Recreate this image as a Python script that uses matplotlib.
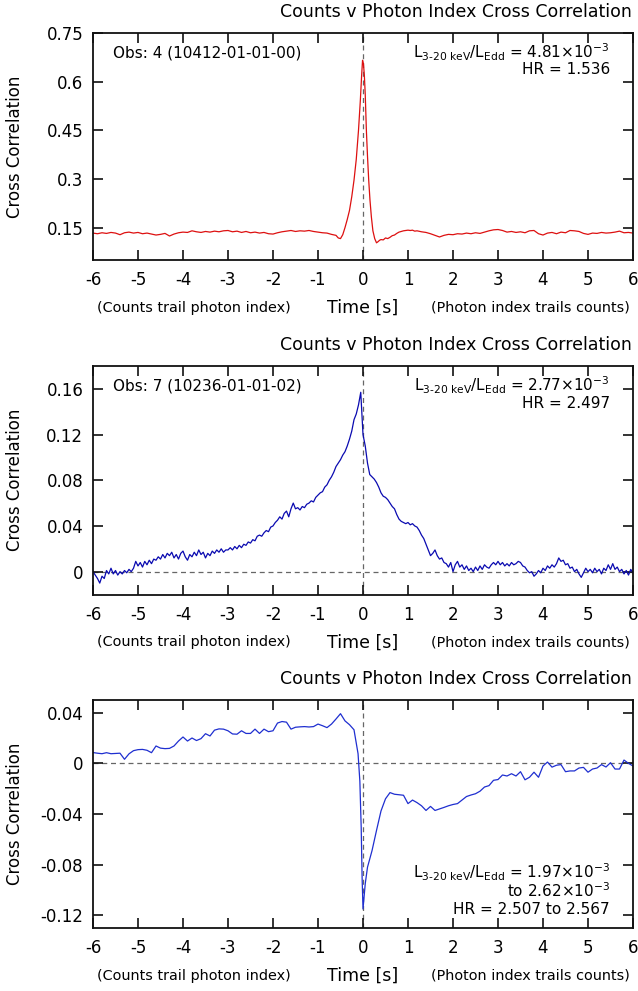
import numpy as np
import matplotlib
matplotlib.use("Agg")
import matplotlib.pyplot as plt

plt.rcParams['font.family'] = ['DejaVu Sans']
plt.rcParams['mathtext.fontset'] = 'custom'
plt.rcParams['mathtext.rm'] = 'DejaVu Sans'
plt.rcParams['mathtext.it'] = 'DejaVu Sans'
plt.rcParams['mathtext.default'] = 'regular'

# ---------------- data ----------------
x_ticks = [-6, -5, -4, -3, -2, -1, 0, 1, 2, 3, 4, 5, 6]
title_text = "Counts v Photon Index Cross Correlation"
ylabel_text = "Cross Correlation"
xlabel_text = "Time [s]"
left_note = "(Counts trail photon index)"
right_note = "(Photon index trails counts)"

# Panel 1 (Obs 4)
t1 = [-6.0, -5.9, -5.8, -5.7, -5.6, -5.5, -5.4, -5.3, -5.2, -5.1, -5.0, -4.9, -4.8, -4.7, -4.6,
      -4.5, -4.4, -4.3, -4.2, -4.1, -4.0, -3.9, -3.8, -3.7, -3.6, -3.5, -3.4, -3.3, -3.2, -3.1,
      -3.0, -2.9, -2.8, -2.7, -2.6, -2.5, -2.4, -2.3, -2.2, -2.1, -2.0, -1.9, -1.8, -1.7, -1.6,
      -1.5, -1.4, -1.3, -1.2, -1.1, -1.0, -0.9, -0.8, -0.7, -0.6, -0.55, -0.5, -0.45, -0.4,
      -0.35, -0.3, -0.25, -0.2, -0.15, -0.1, -0.06, -0.03, -0.01, 0.01, 0.03, 0.05, 0.075, 0.1,
      0.127, 0.155, 0.186, 0.22, 0.26, 0.3, 0.33, 0.37, 0.4, 0.45, 0.5, 0.55, 0.6, 0.65, 0.7,
      0.75, 0.8, 0.85, 0.9, 0.95, 1.0, 1.05, 1.1, 1.15, 1.2, 1.3, 1.4, 1.5, 1.6, 1.7, 1.8, 1.9,
      2.0, 2.1, 2.2, 2.3, 2.4, 2.5, 2.6, 2.7, 2.8, 2.9, 3.0, 3.1, 3.2, 3.3, 3.4, 3.5, 3.6, 3.7,
      3.8, 3.9, 4.0, 4.1, 4.2, 4.3, 4.4, 4.5, 4.6, 4.7, 4.8, 4.9, 5.0, 5.1, 5.2, 5.3, 5.4, 5.5,
      5.6, 5.7, 5.8, 5.9, 6.0]
cc1 = [0.133, 0.131, 0.134, 0.132, 0.135, 0.133, 0.128, 0.134, 0.136, 0.133, 0.135, 0.131, 0.133,
       0.130, 0.127, 0.129, 0.132, 0.124, 0.130, 0.134, 0.136, 0.135, 0.140, 0.137, 0.135, 0.138,
       0.136, 0.139, 0.137, 0.140, 0.141, 0.137, 0.139, 0.135, 0.138, 0.134, 0.136, 0.133, 0.135,
       0.131, 0.130, 0.134, 0.137, 0.139, 0.141, 0.138, 0.140, 0.139, 0.141, 0.138, 0.136, 0.134,
       0.133, 0.129, 0.126, 0.118, 0.116, 0.128, 0.150, 0.175, 0.203, 0.245, 0.296, 0.360, 0.450,
       0.540, 0.620, 0.666, 0.655, 0.620, 0.560, 0.450, 0.370, 0.296, 0.235, 0.183, 0.140, 0.116,
       0.103, 0.106, 0.111, 0.113, 0.112, 0.118, 0.116, 0.120, 0.125, 0.127, 0.132, 0.136, 0.138,
       0.140, 0.141, 0.142, 0.141, 0.142, 0.139, 0.140, 0.137, 0.135, 0.131, 0.126, 0.121, 0.126,
       0.129, 0.128, 0.131, 0.130, 0.133, 0.131, 0.134, 0.132, 0.136, 0.140, 0.143, 0.144, 0.141,
       0.136, 0.138, 0.135, 0.137, 0.134, 0.140, 0.141, 0.131, 0.127, 0.133, 0.135, 0.131, 0.136,
       0.134, 0.141, 0.140, 0.138, 0.132, 0.129, 0.133, 0.132, 0.135, 0.133, 0.134, 0.136, 0.139,
       0.134, 0.135, 0.133]

# Panel 2 (Obs 7), sampled every 0.05 s from -6 to 6
t2 = np.round(np.arange(-6.0, 6.0001, 0.05), 2)
cc2 = [0.000, -0.003, -0.006, -0.010, -0.004, -0.006, 0.001, -0.002, 0.003, -0.002,
       0.001, -0.003, 0.000, -0.002, 0.001, -0.001, 0.002, 0.000, 0.003, 0.009,
       0.005, 0.008, 0.004, 0.009, 0.006, 0.010, 0.007, 0.011, 0.010, 0.013,
       0.011, 0.015, 0.012, 0.016, 0.014, 0.017, 0.012, 0.015, 0.011, 0.016,
       0.018, 0.013, 0.010, 0.015, 0.013, 0.017, 0.014, 0.019, 0.015, 0.017,
       0.012, 0.016, 0.014, 0.018, 0.016, 0.019, 0.017, 0.020, 0.017, 0.019,
       0.019, 0.021, 0.019, 0.022, 0.020, 0.023, 0.021, 0.024, 0.023, 0.026,
       0.025, 0.028, 0.027, 0.031, 0.032, 0.031, 0.034, 0.036, 0.035, 0.039,
       0.040, 0.043, 0.045, 0.048, 0.046, 0.051, 0.053, 0.048, 0.055, 0.060,
       0.055, 0.056, 0.054, 0.057, 0.056, 0.059, 0.060, 0.062, 0.061, 0.065,
       0.067, 0.069, 0.070, 0.074, 0.076, 0.080, 0.083, 0.087, 0.092, 0.095,
       0.098, 0.102, 0.105, 0.110, 0.116, 0.123, 0.133, 0.138, 0.146, 0.157,
       0.120, 0.110, 0.095, 0.085, 0.083, 0.081, 0.078, 0.074, 0.069, 0.066,
       0.065, 0.063, 0.060, 0.057, 0.055, 0.050, 0.046, 0.044, 0.043, 0.042,
       0.043, 0.041, 0.042, 0.040, 0.039, 0.036, 0.032, 0.029, 0.024, 0.019,
       0.014, 0.016, 0.019, 0.014, 0.011, 0.012, 0.008, 0.007, 0.004, 0.008,
       0.000, 0.006, 0.009, 0.004, 0.006, 0.002, 0.005, 0.001, 0.003, 0.000,
       0.004, 0.001, 0.005, 0.002, 0.006, 0.004, 0.003, 0.006, 0.008, 0.006,
       0.009, 0.006, 0.008, 0.005, 0.007, 0.005, 0.008, 0.006, 0.007, 0.009,
       0.008, 0.005, 0.004, 0.001, -0.001, 0.000, -0.004, -0.002, 0.001, -0.001,
       0.003, 0.001, 0.005, 0.003, 0.006, 0.004, 0.007, 0.012, 0.009, 0.010,
       0.006, 0.007, 0.003, 0.004, 0.000, 0.002, -0.002, -0.005, -0.001, 0.003,
       0.000, 0.002, -0.001, 0.003, 0.000, 0.002, -0.002, 0.003, 0.001, 0.006,
       0.002, 0.007, 0.002, 0.004, 0.000, 0.002, -0.002, 0.001, -0.003, 0.002,
       -0.001]

# Panel 3 (combined)
t3 = [-6.0, -5.9, -5.8, -5.7, -5.6, -5.5, -5.4, -5.3, -5.2, -5.1, -5.0, -4.9, -4.8, -4.7, -4.6,
      -4.5, -4.4, -4.3, -4.2, -4.1, -4.0, -3.9, -3.8, -3.7, -3.6, -3.5, -3.4, -3.3, -3.2, -3.1,
      -3.0, -2.9, -2.8, -2.7, -2.6, -2.5, -2.4, -2.3, -2.2, -2.1, -2.0, -1.9, -1.8, -1.7, -1.6,
      -1.5, -1.4, -1.3, -1.2, -1.1, -1.0, -0.9, -0.8, -0.7, -0.6, -0.5, -0.4, -0.3, -0.2, -0.11,
      -0.07, -0.04, -0.02, 0.0, 0.05, 0.1, 0.2, 0.3, 0.4, 0.5, 0.6, 0.7, 0.8, 0.9, 1.0, 1.1, 1.2,
      1.3, 1.4, 1.5, 1.6, 1.7, 1.8, 1.9, 2.0, 2.1, 2.2, 2.3, 2.4, 2.5, 2.6, 2.7, 2.8, 2.9, 3.0,
      3.1, 3.2, 3.3, 3.4, 3.5, 3.6, 3.7, 3.8, 3.9, 4.0, 4.1, 4.2, 4.3, 4.4, 4.5, 4.6, 4.7, 4.8,
      4.9, 5.0, 5.1, 5.2, 5.3, 5.4, 5.5, 5.6, 5.7, 5.8, 5.9, 6.0]
cc3 = [0.0085, 0.0080, 0.0076, 0.0084, 0.0076, 0.0078, 0.0080, 0.0032, 0.0075, 0.0100, 0.0108,
       0.0110, 0.0103, 0.0084, 0.0137, 0.0120, 0.0116, 0.0118, 0.0137, 0.0176, 0.0208, 0.0176,
       0.0200, 0.0180, 0.0195, 0.0234, 0.0216, 0.0262, 0.0272, 0.0270, 0.0257, 0.0232, 0.0230,
       0.0257, 0.0236, 0.0236, 0.0270, 0.0236, 0.0270, 0.0250, 0.0257, 0.0318, 0.0330, 0.0325,
       0.0270, 0.0285, 0.0288, 0.0290, 0.0287, 0.0290, 0.0310, 0.0297, 0.0282, 0.0310, 0.0350,
       0.0392, 0.0335, 0.0305, 0.0265, 0.0076, -0.0140, -0.0507, -0.0900, -0.1150, -0.0950,
       -0.0820, -0.0690, -0.0530, -0.0376, -0.0280, -0.0231, -0.0244, -0.0248, -0.0252, -0.0318,
       -0.0290, -0.0310, -0.0335, -0.0372, -0.0340, -0.0372, -0.0360, -0.0348, -0.0335, -0.0325,
       -0.0318, -0.0290, -0.0262, -0.0250, -0.0240, -0.0220, -0.0187, -0.0176, -0.0134, -0.0128,
       -0.0092, -0.0100, -0.0082, -0.0100, -0.0066, -0.0130, -0.0110, -0.0070, -0.0110, -0.0021,
       0.0010, -0.0030, -0.0015, -0.0010, -0.0066, -0.0060, -0.0060, -0.0037, -0.0032, -0.0070,
       -0.0045, -0.0037, -0.0010, -0.0029, 0.0005, -0.0045, -0.0045, 0.0026, 0.0000, -0.0021]

assert len(t1) == len(cc1), (len(t1), len(cc1))
assert len(t2) == len(cc2), (len(t2), len(cc2))
assert len(t3) == len(cc3), (len(t3), len(cc3))

y_ticks1 = [0.15, 0.3, 0.45, 0.6, 0.75]
y_tlabels1 = ["0.15", "0.3", "0.45", "0.6", "0.75"]
y_ticks2 = [0, 0.04, 0.08, 0.12, 0.16]
y_tlabels2 = ["0", "0.04", "0.08", "0.12", "0.16"]
y_ticks3 = [-0.12, -0.08, -0.04, 0, 0.04]
y_tlabels3 = ["-0.12", "-0.08", "-0.04", "0", "0.04"]

obs1 = "Obs: 4 (10412-01-01-00)"
obs2 = "Obs: 7 (10236-01-01-02)"
lum1 = r"L$_{3‐20\ keV}$/L$_{Edd}$ = 4.81$\times$10$^{-3}$"
hr1 = "HR = 1.536"
lum2 = r"L$_{3‐20\ keV}$/L$_{Edd}$ = 2.77$\times$10$^{-3}$"
hr2 = "HR = 2.497"
lum3a = r"L$_{3‐20\ keV}$/L$_{Edd}$ = 1.97$\times$10$^{-3}$"
lum3b = r"to 2.62$\times$10$^{-3}$"
hr3 = "HR = 2.507 to 2.567"

# ---------------- figure ----------------
W, H = 638, 991
fig = plt.figure(figsize=(W / 100, H / 100), dpi=100)

def px_axes(top, bottom, left=93, right=633):
    return fig.add_axes([left / W, 1 - bottom / H, (right - left) / W, (bottom - top) / H])

ax1 = px_axes(33, 260)
ax2 = px_axes(366, 594.5)
ax3 = px_axes(700, 928)

dash_kw = dict(color='#666666', lw=0.9, dashes=(4, 3), zorder=1)

def style(ax, ylim, yt, ytl):
    ax.set_xlim(-6, 6)
    ax.set_ylim(*ylim)
    ax.set_xticks(x_ticks)
    ax.set_xticklabels([str(v) for v in x_ticks])
    ax.set_yticks(yt)
    ax.set_yticklabels(ytl)
    ax.tick_params(direction='in', length=7, width=1.2, top=True, right=True,
                   labelsize=12, color='#111111')
    ax.tick_params(axis='x', pad=8)
    ax.tick_params(axis='y', pad=7)
    for s in ax.spines.values():
        s.set_linewidth(1.3)
        s.set_color('#111111')
    ax.set_ylabel(ylabel_text, fontsize=12)
    ax.yaxis.set_label_coords(-0.128, 0.5)
    ax.text(0.998, 1.092, title_text, transform=ax.transAxes, ha='right', va='center', fontsize=12.5)
    ax.text(0.007, -0.21, left_note, transform=ax.transAxes, ha='left', va='center', fontsize=10.4)
    ax.text(0.5, -0.21, xlabel_text, transform=ax.transAxes, ha='center', va='center', fontsize=12.5)
    ax.text(0.995, -0.21, right_note, transform=ax.transAxes, ha='right', va='center', fontsize=10.4)
    ax.axvline(0, **dash_kw)

# Panel 1
style(ax1, (0.05, 0.75), y_ticks1, y_tlabels1)
ax1.plot(t1, cc1, color='#dd1010', lw=0.9, zorder=2)
ax1.text(0.037, 0.912, obs1, transform=ax1.transAxes, ha='left', va='center', fontsize=11)
ax1.text(0.957, 0.915, lum1, transform=ax1.transAxes, ha='right', va='center', fontsize=11)
ax1.text(0.957, 0.838, hr1, transform=ax1.transAxes, ha='right', va='center', fontsize=11)

# Panel 2
style(ax2, (-0.02, 0.18), y_ticks2, y_tlabels2)
ax2.axhline(0, **dash_kw)
ax2.plot(t2, cc2, color='#0a0ab0', lw=0.9, zorder=2)
ax2.text(0.037, 0.912, obs2, transform=ax2.transAxes, ha='left', va='center', fontsize=11)
ax2.text(0.957, 0.915, lum2, transform=ax2.transAxes, ha='right', va='center', fontsize=11)
ax2.text(0.957, 0.838, hr2, transform=ax2.transAxes, ha='right', va='center', fontsize=11)

# Panel 3
style(ax3, (-0.13, 0.05), y_ticks3, y_tlabels3)
ax3.axhline(0, **dash_kw)
ax3.plot(t3, cc3, color='#1f2fd0', lw=0.9, zorder=2)
ax3.text(0.957, 0.246, lum3a, transform=ax3.transAxes, ha='right', va='center', fontsize=11)
ax3.text(0.957, 0.162, lum3b, transform=ax3.transAxes, ha='right', va='center', fontsize=11)
ax3.text(0.957, 0.083, hr3, transform=ax3.transAxes, ha='right', va='center', fontsize=11)

fig.savefig("out.png", dpi=100)
